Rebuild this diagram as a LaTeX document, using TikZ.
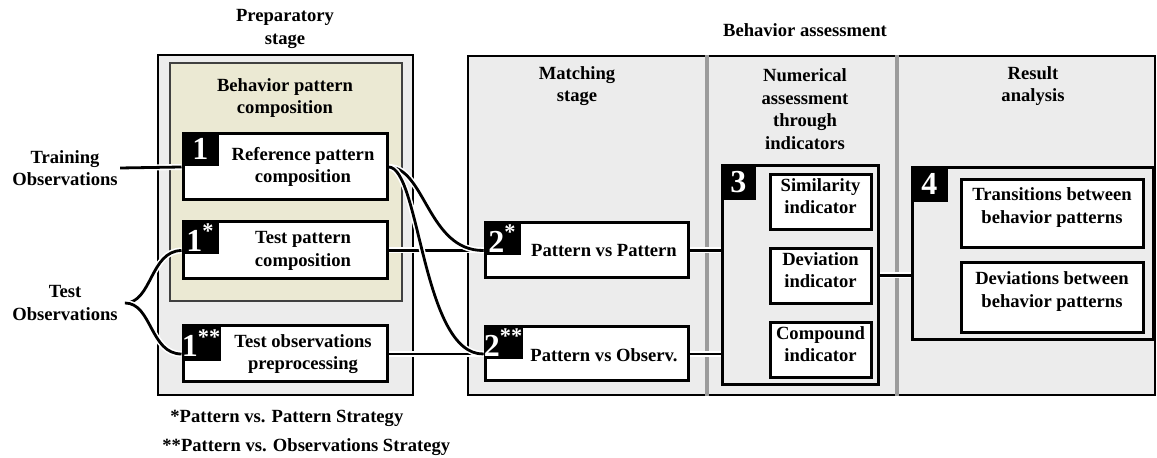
\documentclass[tikz,border=0pt]{standalone}
\usepackage{fontspec}
\setmainfont{Liberation Serif}
\usetikzlibrary{fit}
\definecolor{panelgray}{RGB}{236,236,236}
\definecolor{beige}{RGB}{235,233,211}
\definecolor{divgray}{RGB}{155,155,155}
\pgfdeclarelayer{background}
\pgfdeclarelayer{wires}
\pgfsetlayers{background,wires,main}

\begin{document}
\begin{tikzpicture}[x=0.5pt, y=-0.5pt,
  txt/.style={font=\fontsize{9.3}{11.3}\selectfont\bfseries, align=center, inner sep=1pt},
  stagepanel/.style={draw=black, line width=1.1pt, fill=panelgray, inner sep=0pt},
  procbox/.style={draw=black, line width=1.5pt, fill=white, inner sep=0pt},
  groupbox/.style={draw=black, line width=1.5pt, inner sep=0pt},
  indbox/.style={procbox, font=\fontsize{9.3}{11.3}\selectfont\bfseries, align=center},
  numtag/.style={fill=black, text=white, inner sep=0pt, anchor=north west,
    minimum width=18.5pt, minimum height=16.5pt, font=\fontsize{16}{16}\selectfont\bfseries},
  wire/.style={line width=1.4pt, preaction={draw=white, line width=3pt}}]
  \useasboundingbox (0,0) rectangle (1157,458);

  \node[txt] (prepT) at (285,29) {Preparatory\\stage};
  \node[txt] (assessT) at (805,30) {Behavior assessment};

  \begin{pgfonlayer}{background}
    \node[stagepanel, fit={(158,55) (413,395)}] (prep) {};
    \node[draw=black!75, line width=0.8pt, fill=beige, inner sep=0pt, fit={(170,63) (402,301)}] (compo) {};
    \node[stagepanel, fit={(468,56) (1155,395)}] (assess) {};
    \coordinate (d1) at (707,0);
    \coordinate (d2) at (897,0);
    \draw[divgray, line width=2pt] (d1 |- assess.north) -- (d1 |- assess.south);
    \draw[divgray, line width=2pt] (d2 |- assess.north) -- (d2 |- assess.south);
  \end{pgfonlayer}

  \node[txt] (compoT) at (285,98) {Behavior pattern\\composition};
  \node[txt] (matchT) at (577,86) {Matching\\stage};
  \node[txt] (numT) at (805,109) {Numerical\\assessment\\through\\indicators};
  \node[txt] (resT) at (1033,86) {Result\\analysis};

  \node[txt] (train) at (65,168) {Training\\Observations};
  \node[txt] (test) at (65,303) {Test\\Observations};
  \coordinate (tip) at (125,303);

  % preparatory stage
  \node[procbox, fit={(183,134) (387,200)}] (ref) {};
  \node[numtag] (t1) at (ref.north west) {1};
  \node[txt] (refL) at (303,167) {Reference pattern\\composition};

  \node[procbox, fit={(183,222) (387,279)}] (tpc) {};
  \node[numtag] (t1a) at (tpc.north west) {1\textsuperscript{*}};
  \node[txt] (tpcL) at (303,251) {Test pattern\\composition};

  \node[procbox, fit={(183,326) (387,382)}] (top) {};
  \node[numtag, minimum height=18pt] (t1b) at (top.north west) {1\textsuperscript{**}};
  \node[txt] (topL) at (303,354) {Test observations\\preprocessing};

  % matching stage
  \node[procbox, fit={(485,223) (688,278)}] (pvp) {};
  \node[numtag] (t2a) at (pvp.north west) {2\textsuperscript{*}};
  \node[txt] (pvpL) at (604,251) {Pattern vs Pattern};

  \node[procbox, fit={(485,327) (688,381)}] (pvo) {};
  \node[numtag] (t2b) at (pvo.north west) {2\textsuperscript{**}};
  \node[txt] (pvoL) at (604,355) {Pattern vs Observ.};

  % indicators
  \node[groupbox, fit={(722,166) (878,385)}] (ind) {};
  \node[numtag, minimum width=17.5pt, minimum height=17.5pt] (t3) at (ind.north west) {3};
  \node[indbox, fit={(770,175) (871,230)}] (sim) {Similarity\\indicator};
  \node[indbox, fit={(770,249) (871,304)}] (dev) {Deviation\\indicator};
  \node[indbox, fit={(770,323) (871,378)}] (comp) {Compound\\indicator};

  % result analysis
  \node[groupbox, fit={(912,168) (1153,340)}] (res) {};
  \node[numtag, minimum height=17.5pt] (t4) at (res.north west) {4};
  \node[indbox, fit={(961,180) (1143,248)}] (trans) {Transitions between\\behavior patterns};
  \node[indbox, fit={(961,263) (1143,333)}] (devb) {Deviations between\\behavior patterns};

  \node[txt, anchor=west, inner sep=0pt] (fn1) at (170,418) {*Pattern vs. Pattern Strategy};
  \node[txt, anchor=west, inner sep=0pt] (fn2) at (162,447) {**Pattern vs. Observations Strategy};

  \begin{pgfonlayer}{wires}
    \draw[wire] (train.east) -- (ref.west);
    \draw[wire] (tip) .. controls (152,303) and (150,251) .. (tpc.west);
    \draw[wire] (tip) .. controls (152,303) and (150,354) .. (top.west);
    \draw[wire] (tpc.east) -- (pvp.west);
    \draw[wire] (top.east) -- (pvo.west);
    \draw[wire] (ref.east) .. controls (425,167) and (428,251) .. (pvp.west);
    \draw[wire] (ref.east) .. controls (420,167) and (422,355) .. (pvo.west);
    \draw[wire] (pvp.east) -- (pvp.east -| ind.west);
    \draw[wire] (pvo.east) -- (pvo.east -| ind.west);
    \draw[wire] (ind.east) -- (ind.east -| res.west);
  \end{pgfonlayer}
\end{tikzpicture}
\end{document}
